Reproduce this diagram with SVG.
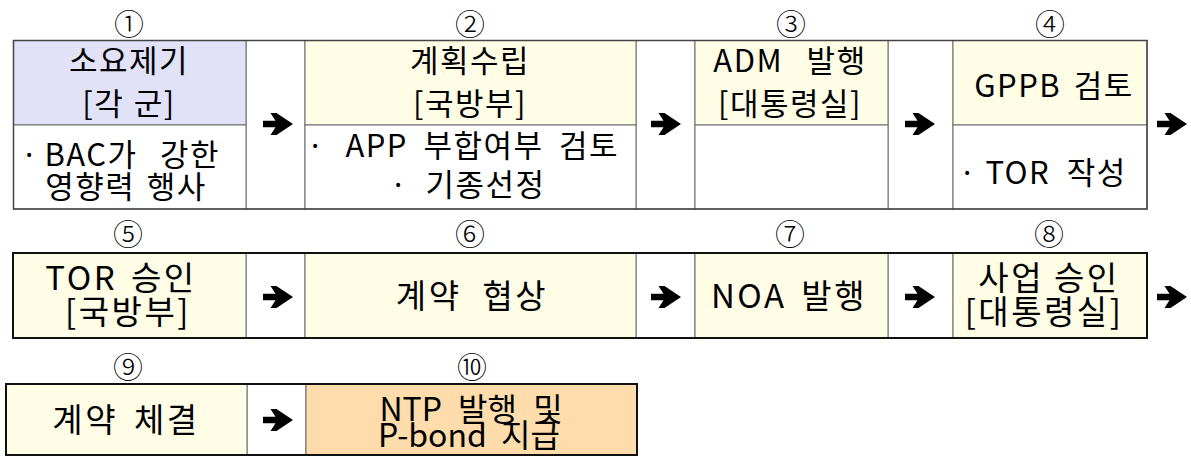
<svg xmlns="http://www.w3.org/2000/svg" width="1191" height="456" viewBox="0 0 1191 456">
<defs>
<style>
text{font-family:"Noto Sans CJK KR","Noto Sans",sans-serif;fill:#000;text-anchor:middle}
.t1{font-size:31px;letter-spacing:1.5px}
.t2{font-size:33px;letter-spacing:2.5px}
.t3{font-size:32px}
.st{text-anchor:start}
.dot{font-family:"Noto Sans",sans-serif;letter-spacing:0;word-spacing:0}
.num{font-size:30px;font-weight:300}
.cell{stroke:#6a6a6a;stroke-width:1}
.lav{fill:#e1e1f8}
.yel{fill:#fffde6}
.pch{fill:#fedcab}
.wht{fill:#fff}
.out1{fill:none;stroke:#444;stroke-width:1.5}
.out2{fill:none;stroke:#111;stroke-width:2}
.arr{fill:#000}
</style>
<path id="ar" d="M-15,-3.2 H-2.5 L-7.5,-11 H-1.5 L15,0 L-1.5,11 H-7.5 L-2.5,3.2 H-15 Z"/>
</defs>
<rect width="1191" height="456" fill="#fff"/>

<!-- Row 1 arrow columns -->
<g id="row1-gaps">
<rect class="cell wht" x="246" y="40.5" width="59" height="168.5"/>
<rect class="cell wht" x="636" y="40.5" width="59" height="168.5"/>
<rect class="cell wht" x="888" y="40.5" width="65" height="168.5"/>
</g>

<g id="step1">
<text class="num" x="129" y="35">①</text>
<rect class="cell lav" x="13.5" y="40.5" width="232.5" height="84.5"/>
<rect class="cell wht" x="13.5" y="125" width="232.5" height="84"/>
<text class="t1" x="129" y="72">소요제기</text>
<text class="t1" x="129" y="115" style="word-spacing:1px">[각 군]</text>
<text class="t1 st" x="25" y="166" style="word-spacing:14px"><tspan class="dot">· </tspan><tspan dx="3">BAC가 강한</tspan></text>
<text class="t1" x="126" y="198" style="word-spacing:3px">영향력 행사</text>
</g>

<g id="step2">
<text class="num" x="470" y="35">②</text>
<rect class="cell yel" x="305" y="40.5" width="331" height="84.5"/>
<rect class="cell wht" x="305" y="125" width="331" height="84"/>
<text class="t1" x="470" y="72">계획수립</text>
<text class="t1" x="470" y="115">[국방부]</text>
<text class="t1 st" x="311" y="157" style="word-spacing:7px"><tspan class="dot">· </tspan><tspan dx="18">APP 부합여부 검토</tspan></text>
<text class="t1 st" x="394" y="196"><tspan class="dot">· </tspan><tspan dx="15">기종선정</tspan></text>
</g>

<g id="step3">
<text class="num" x="791" y="35">③</text>
<rect class="cell yel" x="695" y="40.5" width="193" height="84.5"/>
<rect class="cell wht" x="695" y="125" width="193" height="84"/>
<text class="t1" x="790" y="72" style="word-spacing:15px">ADM 발행</text>
<text class="t1" x="790" y="115">[대통령실]</text>
</g>

<g id="step4">
<text class="num" x="1050" y="35">④</text>
<rect class="cell yel" x="953" y="40.5" width="194" height="84.5"/>
<rect class="cell wht" x="953" y="125" width="194" height="84"/>
<text class="t1" x="1054" y="97" style="word-spacing:4px">GPPB 검토</text>
<text class="t1 st" x="963" y="184" style="word-spacing:8px"><tspan class="dot">· </tspan><tspan dx="6">TOR 작성</tspan></text>
</g>

<rect class="out1" x="13.5" y="40.5" width="1133.5" height="168.5"/>

<!-- Row 2 -->
<g id="row2-gaps">
<rect class="cell wht" x="246" y="253" width="59" height="85"/>
<rect class="cell wht" x="636" y="253" width="59" height="85"/>
<rect class="cell wht" x="888" y="253" width="65" height="85"/>
</g>

<g id="step5">
<text class="num" x="128" y="245">⑤</text>
<rect class="cell yel" x="13" y="253" width="233" height="85"/>
<text class="t2" x="121" y="290" style="word-spacing:4px">TOR 승인</text>
<text class="t2" x="128" y="324">[국방부]</text>
</g>

<g id="step6">
<text class="num" x="470" y="245">⑥</text>
<rect class="cell yel" x="305" y="253" width="331" height="85"/>
<text class="t2" x="472" y="308" style="word-spacing:11px">계약 협상</text>
</g>

<g id="step7">
<text class="num" x="790" y="245">⑦</text>
<rect class="cell yel" x="695" y="253" width="193" height="85"/>
<text class="t2" x="789" y="308" style="word-spacing:5px">NOA 발행</text>
</g>

<g id="step8">
<text class="num" x="1049" y="245">⑧</text>
<rect class="cell yel" x="953" y="253" width="194" height="85"/>
<text class="t2" x="1049" y="290">사업 승인</text>
<text class="t2" x="1044" y="324">[대통령실]</text>
</g>

<rect class="out2" x="13" y="253" width="1134" height="85"/>

<!-- Row 3 -->
<g id="row3-gaps">
<rect class="cell wht" x="247" y="384" width="59" height="71"/>
</g>

<g id="step9">
<text class="num" x="128" y="378">⑨</text>
<rect class="cell yel" x="6" y="384" width="241" height="71"/>
<text class="t2" x="126" y="432" style="word-spacing:6px">계약 체결</text>
</g>

<g id="step10">
<text class="num" x="472" y="378">⑩</text>
<rect class="cell pch" x="306" y="384" width="331" height="71"/>
<text class="t3" x="471" y="421" style="word-spacing:9px">NTP 발행 및</text>
<text class="t3" x="469" y="447" style="word-spacing:7px">P-bond 지급</text>
</g>

<rect class="out2" x="6" y="384" width="631" height="71"/>

<g id="connectors" class="arr">
<use href="#ar" x="278" y="124"/>
<use href="#ar" x="666" y="124"/>
<use href="#ar" x="920" y="124"/>
<use href="#ar" x="1172" y="124"/>
<use href="#ar" x="278" y="297"/>
<use href="#ar" x="666" y="297"/>
<use href="#ar" x="920" y="297"/>
<use href="#ar" x="1172" y="297"/>
<use href="#ar" x="278" y="420"/>
</g>
</svg>
